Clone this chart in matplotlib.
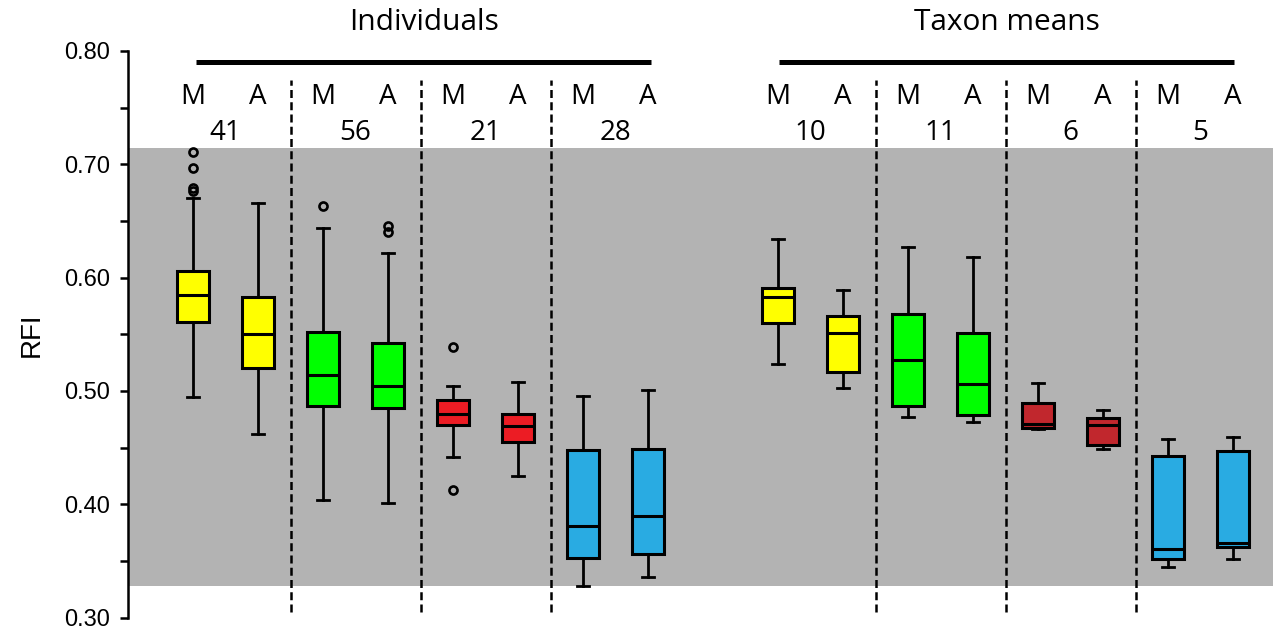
import matplotlib.pyplot as plt
from matplotlib.ticker import FixedLocator

# group headers and sample sizes (one per M/A pair)
group_titles = ['Individuals', 'Taxon means']
sample_sizes = [41, 56, 21, 28, 10, 11, 6, 5]
box_labels = ['M', 'A'] * 8
positions = [1, 2, 3, 4, 5, 6, 7, 8, 10, 11, 12, 13, 14, 15, 16, 17]

# box statistics (RFI)
q1 = [0.561, 0.520, 0.487, 0.485, 0.470, 0.455, 0.353, 0.356,
      0.560, 0.517, 0.487, 0.479, 0.467, 0.452, 0.352, 0.362]
med = [0.585, 0.550, 0.514, 0.504, 0.480, 0.469, 0.381, 0.390,
       0.583, 0.551, 0.527, 0.506, 0.471, 0.470, 0.361, 0.366]
q3 = [0.606, 0.583, 0.552, 0.542, 0.492, 0.480, 0.448, 0.449,
      0.591, 0.566, 0.568, 0.551, 0.489, 0.476, 0.443, 0.447]
whislo = [0.495, 0.462, 0.404, 0.401, 0.442, 0.425, 0.328, 0.336,
          0.524, 0.503, 0.477, 0.473, 0.4665, 0.449, 0.345, 0.352]
whishi = [0.670, 0.666, 0.644, 0.622, 0.504, 0.508, 0.496, 0.501,
          0.634, 0.589, 0.627, 0.618, 0.507, 0.483, 0.458, 0.459]
fliers = [[0.711, 0.697, 0.679, 0.676], [], [0.663], [0.646, 0.640],
          [0.539, 0.413], [], [], [],
          [], [], [], [], [], [], [], []]
box_colors = ['#ffff00', '#ffff00', '#00ff00', '#00ff00',
              '#ec1c24', '#ec1c24', '#29abe2', '#29abe2',
              '#ffff00', '#ffff00', '#00ff00', '#00ff00',
              '#c1272d', '#c1272d', '#29abe2', '#29abe2']
separators = [2.5, 4.5, 6.5, 11.5, 13.5, 15.5]

stats = []
for i in range(len(positions)):
    stats.append(dict(med=med[i], q1=q1[i], q3=q3[i],
                      whislo=whislo[i], whishi=whishi[i], fliers=fliers[i]))

fig = plt.figure(figsize=(12.73, 6.29), dpi=100)
ax = fig.add_axes([0.1006, 0.018, 0.8994, 0.901])

# gray band behind everything
ax.axhspan(0.328, 0.714, facecolor='#b3b3b3', edgecolor='none', zorder=0.5)

lw = 2.2
bp = ax.bxp(stats, positions=positions, widths=0.5, capwidths=0.19,
            patch_artist=True, manage_ticks=False,
            boxprops=dict(linewidth=lw, edgecolor='black'),
            medianprops=dict(color='black', linewidth=lw),
            whiskerprops=dict(color='black', linewidth=2.0),
            capprops=dict(color='black', linewidth=2.0),
            flierprops=dict(marker='o', markerfacecolor='none',
                            markeredgecolor='black', markersize=5.8,
                            markeredgewidth=1.9))
for patch, c in zip(bp['boxes'], box_colors):
    patch.set_facecolor(c)
for art in bp['boxes'] + bp['medians'] + bp['whiskers'] + bp['caps'] + bp['fliers']:
    art.set_zorder(4)

for sx in separators:
    ax.plot([sx, sx], [0.305, 0.774], color='black', lw=1.8,
            linestyle=(0, (3.2, 1.7)), clip_on=False, zorder=3)

ax.set_xlim(0, 17.615)
ax.set_ylim(0.30, 0.80)

# group headers with bars
ax.plot([1.05, 8.05], [0.7905, 0.7905], color='black', lw=3.6,
        solid_capstyle='butt', clip_on=False)
ax.plot([10.02, 17.02], [0.7905, 0.7905], color='black', lw=3.6,
        solid_capstyle='butt', clip_on=False)
ax.text(4.55, 0.8249, group_titles[0], ha='center', va='center',
        fontsize=21.5, family='Open Sans')
ax.text(13.52, 0.8249, group_titles[1], ha='center', va='center',
        fontsize=21.5, family='Open Sans')

for p, lab in zip(positions, box_labels):
    ax.text(p, 0.7596, lab, ha='center', va='center', fontsize=20,
            family='Open Sans')
for k, n in enumerate(sample_sizes):
    mid = (positions[2 * k] + positions[2 * k + 1]) / 2
    ax.text(mid, 0.7280, str(n), ha='center', va='center', fontsize=20,
            family='Open Sans')

for s in ['top', 'right', 'bottom']:
    ax.spines[s].set_visible(False)
ax.spines['left'].set_linewidth(1.8)
ax.set_xticks([])

major = [0.30, 0.40, 0.50, 0.60, 0.70, 0.80]
ax.yaxis.set_major_locator(FixedLocator(major))
ax.yaxis.set_minor_locator(FixedLocator([0.35, 0.45, 0.55, 0.65, 0.75]))
ax.set_yticklabels(['%.2f' % v for v in major], family='Liberation Sans',
                   fontsize=17)
ax.tick_params(axis='y', which='both', length=5.8, width=1.8, pad=7)
ax.set_ylabel('RFI', family='Liberation Sans', fontsize=20, labelpad=14)

fig.savefig('out.png', dpi=100)
